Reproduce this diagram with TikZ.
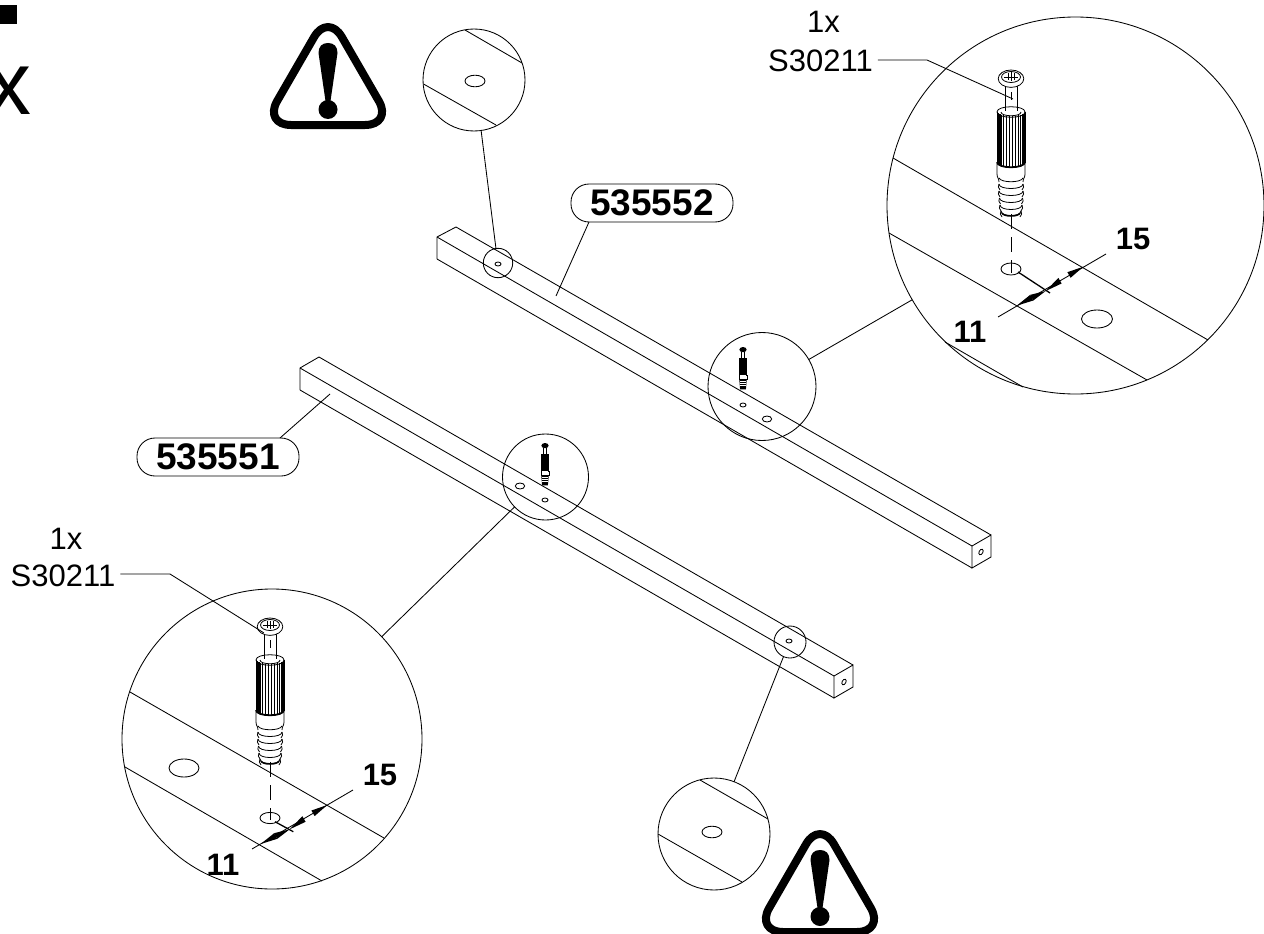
\documentclass[tikz,border=0pt]{standalone}
\usepackage{fontspec}
\setmainfont{Liberation Sans}
\tikzset{
  px/.style={x=1pt,y=-1pt},
  ln/.style={line width=0.85pt,black},
  ring/.style={circle,draw,line width=0.85pt,inner sep=0pt,outer sep=0pt,minimum size=#1},
  tag/.style={rectangle,draw,line width=0.85pt,rounded corners=18pt,minimum width=162pt,minimum height=38pt,inner sep=0pt,outer sep=0pt,font=\fontsize{37}{37}\selectfont\bfseries},
  plain/.style={inner sep=0pt,outer sep=0pt,font=\fontsize{31}{31}\selectfont},
  dimnum/.style={inner sep=0pt,outer sep=0pt,font=\fontsize{31}{31}\selectfont\bfseries},
  ext/.style={line width=1.3pt,black},
  dashln/.style={line width=0.85pt,dash pattern=on 15pt off 8pt}
}
% screw drawn with head top at (0,0), axis x=0
\newcommand{\screwbig}{%
  \begin{scope}[line width=0.8pt]
  % shank
  \draw (-6,14) -- (-6,41);
  \draw (6,14) -- (6,41);
  \draw (0,22) -- (0,30);
  % head
  \draw[fill=white] (0,8.7) ellipse (12.8 and 8.7);
  \draw (0,7) ellipse (9.5 and 5.5);
  \draw (-3,3) -- (-3,10) (0,2.5) -- (0,11) (3,3) -- (3,10) (-7,7) -- (7,7);
  % barrel
  \draw (-14,42) -- (-14,93) (14,42) -- (14,93);
  \draw (-14,42) .. controls (-14,35) and (14,35) .. (14,42);
  \draw (-14,42) .. controls (-14,49) and (14,49) .. (14,42);
  \draw (-10,42) .. controls (-10,47) and (10,47) .. (10,42);
  \foreach \q in {-13,-12,-11,-9.5,-7.5,-4.5,-1.5,1.5,4,7,9.5,11,12,13}{
    \pgfmathsetmacro{\off}{5*sqrt(1-(\q/14)*(\q/14))}
    \draw[line width=0.6pt] (\q,{41+\off}) -- (\q,{92+\off});
  }
  \draw[line width=1.8pt] (-14,92) .. controls (-14,99) and (14,99) .. (14,92);
  % collar
  \draw (-14,93) -- (-14,104) .. controls (-14,108) and (-12,108) .. (-12,112);
  \draw (14,93) -- (14,104) .. controls (14,108) and (12,108) .. (12,112);
  \draw (-12,108) .. controls (-10,113) and (10,113) .. (12,108);
  % thread
  \foreach \yy/\w in {114/12,121/12,128/11.5,135/11,141/10}{
    \draw (-\w,\yy) .. controls (-\w,{\yy+6}) and (\w,{\yy+6}) .. (\w,\yy);
    \draw (-\w,\yy) .. controls (-\w-1,{\yy+2}) and (-\w-1,{\yy+4}) .. (-\w+1,{\yy+6});
    \draw (\w,\yy) .. controls (\w+1,{\yy+2}) and (\w+1,{\yy+4}) .. (\w-1,{\yy+6});
  }
  \draw[line width=1.5pt] (-9,143) .. controls (-8,147) and (8,147) .. (9,143);
  \end{scope}
}
\newcommand{\screwmini}{%
  % head
  \fill[black] (0,9) ellipse (12.5 and 9);
  % shank
  \draw[line width=0.6pt] (-6,16) -- (-6,40) (6,16) -- (6,40);
  % barrel
  \fill[black] (-15,38) rectangle (15,97);
  % collar
  \draw[line width=0.7pt,fill=white] (-14,97) rectangle (14,111);
  \fill[white] (-12,97) rectangle (12,111);
  \fill[black] (-15,97) rectangle (-9,111);
  % thread
  \fill[black] (-13,111) -- (13,111) -- (10,146) -- (-10,146) -- cycle;
  \foreach \yy in {117,125,133}{\draw[white,line width=0.35pt] (-10,\yy) -- (10,\yy);}
}
\newcommand{\warnsign}{%
  \draw[line width=8pt,line join=round,rounded corners=27.7pt] (0,100) -- (64.7,100) -- (0,-12) -- (-64.7,100) -- cycle;
  \fill (-9.5,28) .. controls (-9.5,21.5) and (-6,18) .. (0,18) .. controls (6,18) and (9.5,21.5) .. (9.5,28) -- (2.5,76) -- (-2.5,76) -- cycle;
  \fill (0,84.5) circle (9.5);
}
\newcommand{\dimhead}[4]{\fill (#1,#2) -- ({#3+1.6},{#4+2.8}) -- ({#3-1.6},{#4-2.8}) -- cycle;}
\newcommand{\dimarrows}{%
  \dimhead{0}{0}{15}{-8}
  \dimhead{29}{-14.7}{15}{-8}
  \dimhead{29}{-14.7}{43.3}{-25}
  \dimhead{66.6}{-39}{52.3}{-30.7}
}
\begin{document}
\begin{tikzpicture}[px,ln]
\useasboundingbox (0,0) rectangle (1264,934);
% top-left remnants
\fill (0,5) rectangle (17,24.3);
\node[anchor=base east,inner sep=0pt,font=\fontsize{90}{90}\selectfont] (xmark) at (32,114) {x};
% warnings
\begin{scope}[shift={(328,25)}]\warnsign\end{scope}
\begin{scope}[shift={(820,832)}]\warnsign\end{scope}
% beam 1
\draw (456,227) -- (991,535) (437,237) -- (972,546) (437,259) -- (972,568);
\draw (437,259) -- (437,237) -- (456,227);
\draw (972,568) -- (972,546) -- (991,535) -- (991,557) -- cycle;
\draw[shift={(981,552)},rotate=62] (0,0) ellipse (3 and 1.9);
% beam 2
\draw (319,357) -- (853,665) (300,368) -- (834,676) (300,390) -- (834,698);
\draw (300,390) -- (300,368) -- (319,357);
\draw (834,698) -- (834,676) -- (853,665) -- (853,687) -- cycle;
\draw[shift={(844,682)},rotate=62] (0,0) ellipse (3 and 1.9);
% rings
\node[ring=29.4pt] (ca) at (498,263) {};
\node[ring=102pt] (cb) at (474,80) {};
\node[ring=108pt] (cc) at (762,386.5) {};
\node[ring=377pt] (cd) at (1075.5,205.5) {};
\node[ring=86pt] (ce) at (545.5,477) {};
\node[ring=300pt] (cf) at (272,739) {};
\node[ring=32pt] (cg) at (790,642) {};
\node[ring=112pt] (ch) at (714,834) {};
% ring connectors
\draw (ca.98) -- (cb.278);
\draw (cc.30) -- (cd.210);
\draw (ce.224) -- (cf.43.4);
\draw (cg.246) -- (ch.69);
% detail ring b
\draw (465,30) -- (522,63) (423.5,84) -- (496,125);
\draw (475,81) ellipse (10 and 5.8);
\draw (498,264) ellipse (3 and 2);
% detail ring h
\draw (700,780) -- (768,819) (658,834) -- (742,882);
\draw (712,832) ellipse (10 and 5.8);
\draw (789,641) ellipse (3 and 2);
% detail ring d
\draw (893,158) -- (1208,340) (889,233) -- (1147,380) (945,342) -- (1023,387);
\draw (1011,269) ellipse (10 and 6);
\draw (1097,319) ellipse (15.5 and 9);
\begin{scope}[shift={(1011,70)}]\screwbig\end{scope}
\draw[dashln] (1011,214) -- (1011,273);
\draw[ext] (1018,272) -- (1050,293);
\draw (998,317) -- (1106,254);
\begin{scope}[shift={(1016.7,305.7)}]\dimarrows\end{scope}
\node[dimnum] (nf) at (1133,239) {15};
\node[dimnum] (ne) at (970,332) {11};
% detail ring f
\draw (130,692) -- (384,838) (125,767) -- (322,881);
\draw (270,818) ellipse (10 and 5.6);
\draw (184,768) ellipse (15 and 9);
\begin{scope}[shift={(270,618)}]\screwbig\end{scope}
\draw[dashln] (270,762) -- (270,820);
\draw[ext] (275,821.7) -- (293.3,831.7);
\draw (252,849) -- (353,790);
\begin{scope}[shift={(260.7,844)}]\dimarrows\end{scope}
\node[dimnum] (nh) at (380,775) {15};
\node[dimnum] (ng) at (223,865) {11};
% mini screws and holes
\begin{scope}[shift={(743,347)},scale=0.29]\screwmini\end{scope}
\draw (743,405) ellipse (3 and 2);
\draw (767,419) ellipse (4.7 and 3);
\begin{scope}[shift={(545,443)},scale=0.29]\screwmini\end{scope}
\draw (520,486) ellipse (4.7 and 3);
\draw (545,500) ellipse (3 and 2);
% part tags
\node[tag] (tb) at (652,203) {535552};
\node[tag] (ta) at (218,457) {535551};
\coordinate (tbend) at (556,296);
\coordinate (taend) at (330,394);
\draw (tb.south west) ++(18,0) coordinate (tbs) -- (tbend);
\draw (ta.north east) ++(-19,0) coordinate (tas) -- (taend);
% part call-outs
\node[plain,anchor=base] (qa) at (823.5,33) {1x};
\node[plain,anchor=base] (pa) at (820.5,72) {S30211};
\node[plain,anchor=base] (qb) at (66,549) {1x};
\node[plain,anchor=base] (pb) at (63,586) {S30211};
\coordinate (ka) at (927,60);
\coordinate (kae) at (1013,99);
\coordinate (kb) at (170,574);
\coordinate (kbe) at (264,633);
\draw ([xshift=5pt]pa.east |- ka) -- (ka) -- (kae);
\draw ([xshift=5pt]pb.east |- kb) -- (kb) -- (kbe);
\end{tikzpicture}
\end{document}
